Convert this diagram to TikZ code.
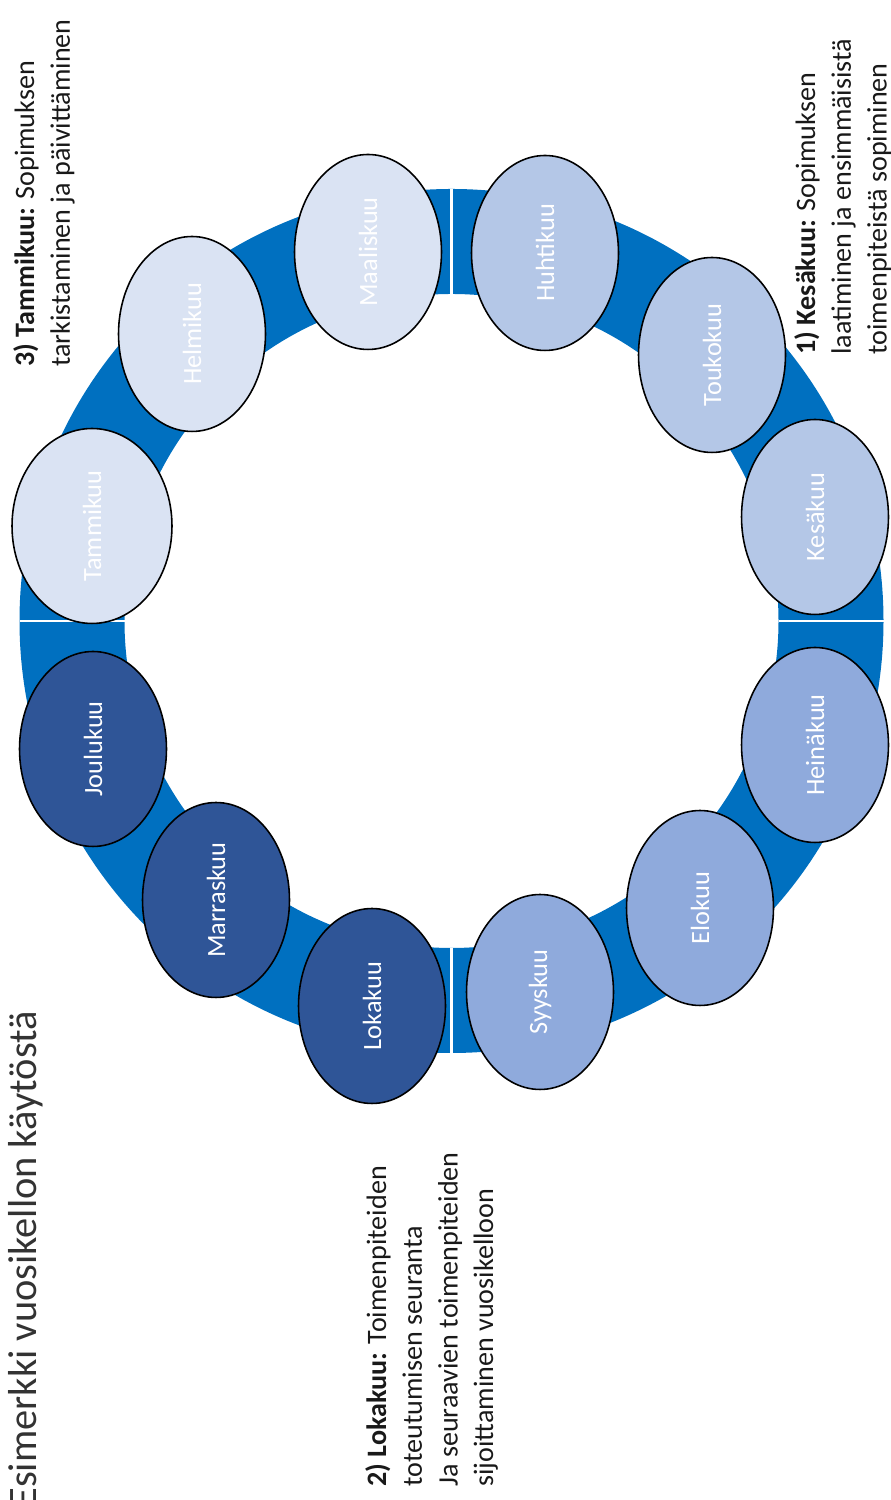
\documentclass[tikz,border=0pt]{standalone}
\usepackage{fontspec}
\setmainfont{Carlito}
\usepackage{tikz}
\usetikzlibrary{shapes.geometric}

\definecolor{ringblue}{RGB}{0,112,192}
\definecolor{winter}{RGB}{218,227,243}
\definecolor{spring}{RGB}{180,199,231}
\definecolor{summer}{RGB}{143,170,220}
\definecolor{autumn}{RGB}{47,85,151}

\begin{document}
\begin{tikzpicture}[x=0.02cm,y=0.02cm,
    month/.style={ellipse,rotate=90,draw=black,line width=0.9pt,
      minimum width=3.9cm,minimum height=2.94cm,inner sep=0pt,
      text=white,font=\fontsize{15}{18}\selectfont},
    note/.style={rotate=90,anchor=north west,align=left,inner sep=0pt,
      text=black!90,font=\fontsize{16}{20.3}\selectfont}]
  \useasboundingbox (0,0) rectangle (891,1500);
  \coordinate (C) at (451.5,879);

  % ring and quarter marks
  \fill[ringblue,even odd rule] (C) circle (432) (C) circle (327);
  \foreach \a in {0,90,180,270}
    \draw[white,line width=1.6pt] (C) ++(\a:327) -- ++(\a:105);

  \node[month,fill=winter,minimum height=3.2cm] (tammi) at (92,974) {Tammikuu};
  \node[month,fill=winter] (helmi) at (192,1166) {Helmikuu};
  \node[month,fill=winter] (maalis) at (368,1248) {Maaliskuu};
  \node[month,fill=spring] (huhti) at (545,1247) {Huhtikuu};
  \node[month,fill=spring] (touko) at (712,1145) {Toukokuu};
  \node[month,fill=spring] (kesa) at (815,983) {Kesäkuu};
  \node[month,fill=summer] (heina) at (815,755) {Heinäkuu};
  \node[month,fill=summer] (elo) at (700,592) {Elokuu};
  \node[month,fill=summer] (syys) at (540,508) {Syyskuu};
  \node[month,fill=autumn] (loka) at (372,494) {Lokakuu};
  \node[month,fill=autumn] (marras) at (216,600) {Marraskuu};
  \node[month,fill=autumn] (joulu) at (93,751) {Joulukuu};

  \node[rotate=90,anchor=base west,inner sep=0pt,text=black!80,
    font=\fontsize{23}{27}\selectfont] (title) at (36,-8)
    {Esimerkki vuosikellon käytöstä};
  \node[note] (tammiNote) at (13,1133)
    {\textbf{3) Tammikuu:} Sopimuksen\\tarkistaminen ja päivittäminen};
  \node[note] (kesaNote) at (794,1145)
    {\textbf{1) Kesäkuu:} Sopimuksen\\laatiminen ja ensimmäisistä\\toimenpiteistä sopiminen};
  \node[note] (lokaNote) at (365,13)
    {\textbf{2) Lokakuu:} Toimenpiteiden\\toteutumisen seuranta\\Ja seuraavien toimenpiteiden\\sijoittaminen vuosikelloon};
\end{tikzpicture}
\end{document}
